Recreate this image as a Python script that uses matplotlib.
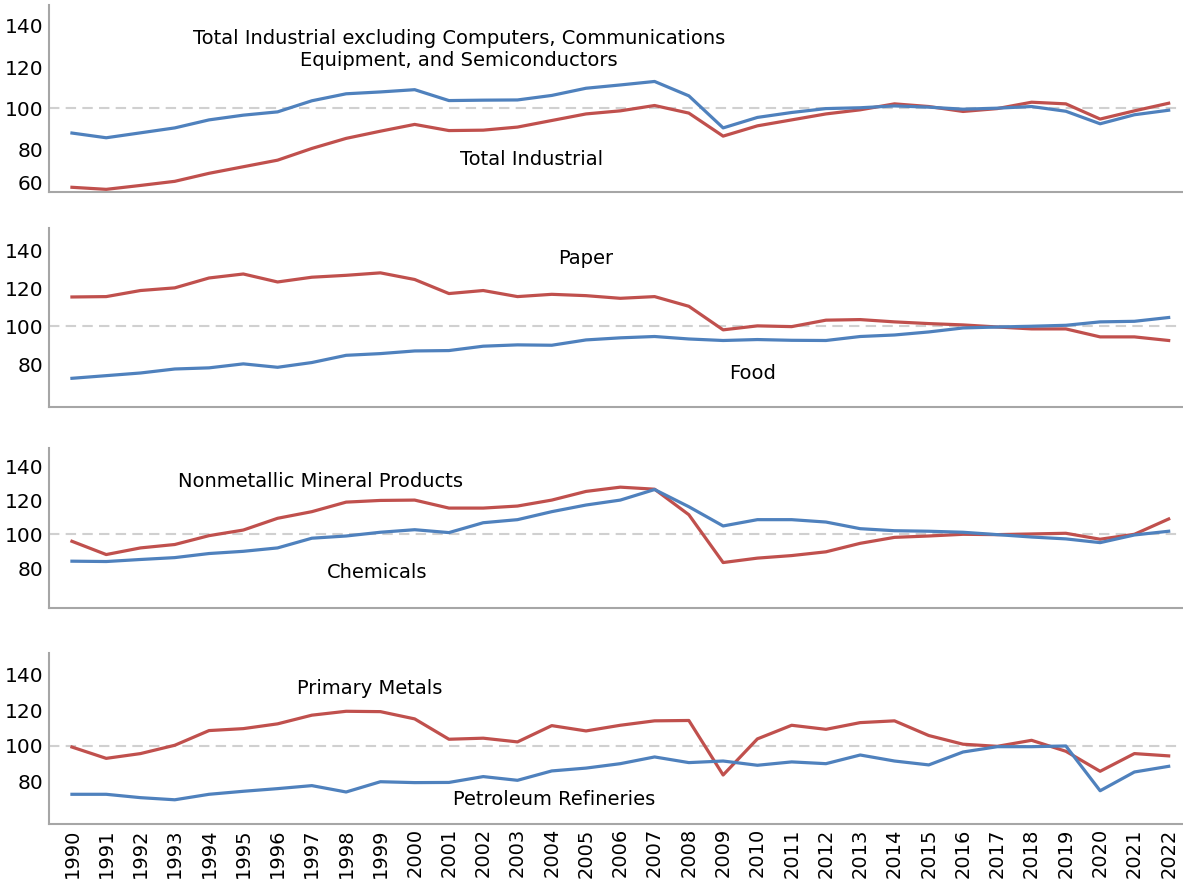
import matplotlib.pyplot as plt
import matplotlib.transforms as mtransforms
import numpy as np

years = np.arange(1990, 2023)

total_excl = [87.9, 85.6, 88.0, 90.4, 94.3, 96.6, 98.2, 103.6, 107.0, 107.9, 109.0,
              103.7, 103.9, 104.0, 106.2, 109.7, 111.3, 113.0, 106.0, 90.4, 95.5,
              97.9, 99.8, 100.2, 101.1, 100.5, 99.5, 100.0, 100.8, 98.5, 92.4, 96.8, 99.0]
total_ind = [61.5, 60.5, 62.4, 64.4, 68.3, 71.5, 74.7, 80.4, 85.3, 88.8, 92.1,
             89.1, 89.3, 90.8, 94.0, 97.2, 98.7, 101.3, 97.6, 86.4, 91.4,
             94.3, 97.2, 99.2, 102.1, 100.8, 98.4, 99.8, 102.9, 102.1, 94.7, 98.7, 102.4]

paper = [115.4, 115.6, 118.8, 120.2, 125.4, 127.5, 123.3, 125.8, 126.8, 128.1, 124.6,
         117.2, 118.8, 115.6, 116.8, 116.1, 114.7, 115.6, 110.5, 98.1, 100.2,
         99.8, 103.2, 103.5, 102.3, 101.4, 100.7, 99.6, 98.6, 98.6, 94.4, 94.4, 92.5]
food = [72.6, 74.0, 75.4, 77.5, 78.1, 80.2, 78.4, 80.9, 84.7, 85.6, 87.0,
        87.2, 89.5, 90.2, 90.0, 92.8, 93.9, 94.6, 93.3, 92.5, 93.0,
        92.6, 92.5, 94.6, 95.4, 97.0, 99.1, 99.6, 100.0, 100.5, 102.3, 102.6, 104.6]

nonmetallic = [95.9, 88.1, 92.0, 94.0, 99.2, 102.5, 109.4, 113.3, 118.9, 119.9, 120.1,
               115.4, 115.4, 116.6, 120.1, 125.2, 127.7, 126.5, 111.5, 83.4, 86.0,
               87.5, 89.7, 94.7, 98.2, 99.0, 100.0, 99.8, 100.2, 100.6, 97.1, 100.0, 109.0]
chemicals = [84.2, 84.0, 85.2, 86.3, 88.7, 90.0, 92.0, 97.7, 99.0, 101.2, 102.7,
             101.0, 106.8, 108.6, 113.3, 117.2, 120.1, 126.3, 116.2, 104.9, 108.6,
             108.6, 107.2, 103.3, 102.1, 101.8, 101.2, 99.8, 98.4, 97.3, 95.1, 99.6, 101.8]

primary_metals = [99.2, 92.8, 95.5, 100.2, 108.5, 109.6, 112.3, 117.2, 119.4, 119.2, 115.1,
                  103.6, 104.2, 102.1, 111.3, 108.3, 111.5, 114.0, 114.2, 83.4, 103.8,
                  111.5, 109.2, 113.0, 114.0, 105.7, 100.8, 99.6, 103.0, 96.8, 85.5, 95.5, 94.2]
petroleum = [72.5, 72.5, 70.6, 69.4, 72.5, 74.2, 75.7, 77.4, 73.8, 79.6, 79.1,
             79.2, 82.5, 80.4, 85.7, 87.3, 89.8, 93.6, 90.4, 91.3, 88.9,
             90.8, 89.8, 94.7, 91.3, 89.1, 96.4, 99.4, 99.4, 99.8, 74.5, 85.1, 88.3]

BLUE = '#4F81BD'
RED = '#C0504D'

fig = plt.figure(figsize=(11.83, 8.80), dpi=100)
plt.rcParams['font.family'] = ['DejaVu Sans']

# left, bottom, width, height (figure fraction) and y-limits for each panel
panels = [
    ([0.0414, 0.7818, 0.9575, 0.2125], (59.2, 150.2), total_excl, total_ind, [60, 80, 100, 120, 140]),
    ([0.0414, 0.5375, 0.9575, 0.2034], (57.5, 151.7), food, paper, [80, 100, 120, 140]),
    ([0.0414, 0.3091, 0.9575, 0.1818], (56.7, 150.7), chemicals, nonmetallic, [80, 100, 120, 140]),
    ([0.0414, 0.0636, 0.9575, 0.1943], (55.7, 152.3), petroleum, primary_metals, [80, 100, 120, 140]),
]

labels = [
    [('Total Industrial excluding Computers, Communications\nEquipment, and Semiconductors', 2001.3, 128.6),
     ('Total Industrial', 2003.4, 74.8)],
    [('Paper', 2005.0, 135.4), ('Food', 2009.85, 74.9)],
    [('Nonmetallic Mineral Products', 1997.24, 131.3), ('Chemicals', 1998.9, 77.8)],
    [('Primary Metals', 1998.7, 132.0), ('Petroleum Refineries', 2004.07, 69.3)],
]

axes = []
for i, (rect, ylim, blue, red, yt) in enumerate(panels):
    ax = fig.add_axes(rect)
    ax.axhline(100, color='#D0D0D0', lw=1.5, ls=(0, (5, 3)), zorder=1)
    ax.plot(years, red, color=RED, lw=2.3, zorder=3)
    ax.plot(years, blue, color=BLUE, lw=2.3, zorder=3)
    ax.set_xlim(1989.33, 2022.38)
    ax.set_ylim(*ylim)
    ax.set_yticks(yt)
    ax.set_yticklabels([str(v) for v in yt])
    ax.tick_params(axis='y', length=0, pad=4, labelsize=14.5)
    for s in ['top', 'right']:
        ax.spines[s].set_visible(False)
    for s in ['left', 'bottom']:
        ax.spines[s].set_color('#A6A6A6')
        ax.spines[s].set_linewidth(1.5)
    ax.set_xticks(years)
    if i == 3:
        ax.set_xticklabels([str(y) for y in years], rotation=90, fontsize=14)
        ax.tick_params(axis='x', length=0, pad=3)
    else:
        ax.tick_params(axis='x', length=0, labelbottom=False)
    for txt, x, y in labels[i]:
        ax.text(x, y, txt, ha='center', va='center', fontsize=14,
                linespacing=1.25, zorder=4)
    axes.append(ax)

# the lowest label of the top panel sits a little above its tick
lab60 = axes[0].get_yticklabels()[0]
lab60.set_transform(lab60.get_transform() +
                    mtransforms.ScaledTranslation(0, 8 / 100, fig.dpi_scale_trans))

fig.savefig('out.png', dpi=100)
